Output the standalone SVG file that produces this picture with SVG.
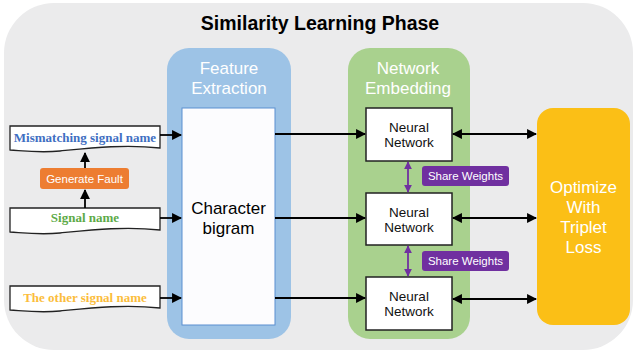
<svg xmlns="http://www.w3.org/2000/svg" width="637" height="354" viewBox="0 0 637 354">
<defs>
<style>
.sans{font-family:"Liberation Sans",Arial,sans-serif}
.doc{fill:#ffffff;stroke:#222;stroke-width:1.3}
.sig{font-family:"Liberation Serif","DejaVu Serif",serif;font-weight:bold;font-size:13px;text-anchor:middle}
.hdr{font-family:"Liberation Sans",Arial,sans-serif;font-size:17px;fill:#ffffff;text-anchor:middle}
.nn{fill:#ffffff;stroke:#222;stroke-width:1.5}
.nnt{font-family:"Liberation Sans",Arial,sans-serif;font-size:13.5px;fill:#111;text-anchor:middle}
.sw{fill:#7030a0}
.swt{font-family:"Liberation Sans",Arial,sans-serif;font-size:11.5px;fill:#ffffff;text-anchor:middle}
.conn{stroke:#000;stroke-width:1.8;fill:none}
.pconn{stroke:#7030a0;stroke-width:1.8;fill:none}
</style>
<marker id="ah" viewBox="0 0 10 10" refX="9" refY="5" markerWidth="5.5" markerHeight="5.5" orient="auto-start-reverse" markerUnits="strokeWidth">
<path d="M0,0 L10,5 L0,10 Z" fill="#000"/>
</marker>
<marker id="ahp" viewBox="0 0 10 10" refX="9" refY="5" markerWidth="4.5" markerHeight="4.5" orient="auto-start-reverse" markerUnits="strokeWidth">
<path d="M0,0 L10,5 L0,10 Z" fill="#7030a0"/>
</marker>
</defs>
<rect x="0" y="0" width="637" height="354" fill="#ffffff"/>
<rect id="background" x="4" y="3" width="629" height="347" rx="50" fill="#ebebec"/>
<text id="title" class="sans" x="320" y="30" font-size="19.5" font-weight="bold" text-anchor="middle" fill="#000">Similarity Learning Phase</text>

<g id="feature-extraction">
<rect x="167" y="48" width="124" height="291" rx="22" fill="#9dc3e6"/>
<text class="hdr" x="229" y="74">Feature</text>
<text class="hdr" x="229" y="94">Extraction</text>
</g>
<g id="character-bigram">
<rect x="182" y="108" width="93" height="217" fill="#fcfcfe" stroke="#5b8fd0" stroke-width="1"/>
<text class="sans" x="228.5" y="214" font-size="17" text-anchor="middle" fill="#000">Character</text>
<text class="sans" x="228.5" y="234" font-size="17" text-anchor="middle" fill="#000">bigram</text>
</g>

<g id="network-embedding">
<rect x="348" y="48" width="122" height="291" rx="22" fill="#a9d18e"/>
<text class="hdr" x="408" y="74">Network</text>
<text class="hdr" x="408" y="94">Embedding</text>
</g>
<g id="nn1">
<rect class="nn" x="366" y="108" width="86" height="53"/>
<text class="nnt" x="409" y="132">Neural</text>
<text class="nnt" x="409" y="147">Network</text>
</g>
<g id="nn2">
<rect class="nn" x="366" y="193" width="86" height="52"/>
<text class="nnt" x="409" y="217">Neural</text>
<text class="nnt" x="409" y="232">Network</text>
</g>
<g id="nn3">
<rect class="nn" x="366" y="277" width="86" height="53"/>
<text class="nnt" x="409" y="301">Neural</text>
<text class="nnt" x="409" y="316">Network</text>
</g>
<g id="share1">
<rect class="sw" x="422" y="166" width="87" height="20" rx="3"/>
<text class="swt" x="465.5" y="180">Share Weights</text>
</g>
<g id="share2">
<rect class="sw" x="422" y="251" width="87" height="20" rx="3"/>
<text class="swt" x="465.5" y="265">Share Weights</text>
</g>

<g id="optimize">
<rect x="537" y="108" width="93" height="217" rx="16" fill="#fbbf16"/>
<text class="hdr" x="583.5" y="193">Optimize</text>
<text class="hdr" x="583.5" y="213">With</text>
<text class="hdr" x="583.5" y="233">Triplet</text>
<text class="hdr" x="583.5" y="253">Loss</text>
</g>

<g id="mismatching">
<path class="doc" d="M10,126 H160 V148 C125,144 90,148 60,151 C40,153 25,151 10,150 Z"/>
<text class="sig" x="85" y="142" fill="#3f6fc2">Mismatching signal name</text>
</g>
<g id="generate-fault">
<rect x="40" y="168" width="89" height="21" rx="3" fill="#ed7d31"/>
<text class="sans" x="84.5" y="183" font-size="11.5" text-anchor="middle" fill="#ffffff">Generate Fault</text>
</g>
<g id="signal">
<path class="doc" d="M10,208 H160 V230 C125,226 90,230 60,233 C40,235 25,233 10,232 Z"/>
<text class="sig" x="85" y="222" fill="#5daa47">Signal name</text>
</g>
<g id="other">
<path class="doc" d="M10,286 H160 V308 C125,304 90,308 60,311 C40,313 25,311 10,310 Z"/>
<text class="sig" x="85" y="302" fill="#fbbd3c">The other signal name</text>
</g>

<g id="connectors">
<line class="conn" x1="160" y1="135" x2="181" y2="135" marker-end="url(#ah)"/>
<line class="conn" x1="160" y1="218" x2="181" y2="218" marker-end="url(#ah)"/>
<line class="conn" x1="160" y1="298" x2="181" y2="298" marker-end="url(#ah)"/>
<line class="conn" x1="85" y1="168" x2="85" y2="153" marker-end="url(#ah)"/>
<line class="conn" x1="85" y1="208" x2="85" y2="190" marker-end="url(#ah)"/>
<line class="conn" x1="275" y1="134" x2="365" y2="134" marker-end="url(#ah)"/>
<line class="conn" x1="275" y1="218" x2="365" y2="218" marker-end="url(#ah)"/>
<line class="conn" x1="275" y1="298" x2="365" y2="298" marker-end="url(#ah)"/>
<line class="conn" x1="453" y1="134" x2="536" y2="134" marker-start="url(#ah)" marker-end="url(#ah)"/>
<line class="conn" x1="453" y1="218" x2="536" y2="218" marker-start="url(#ah)" marker-end="url(#ah)"/>
<line class="conn" x1="453" y1="299" x2="536" y2="299" marker-start="url(#ah)" marker-end="url(#ah)"/>
<line class="pconn" x1="408" y1="162" x2="408" y2="192" marker-start="url(#ahp)" marker-end="url(#ahp)"/>
<line class="pconn" x1="408" y1="246" x2="408" y2="276" marker-start="url(#ahp)" marker-end="url(#ahp)"/>
</g>
</svg>
